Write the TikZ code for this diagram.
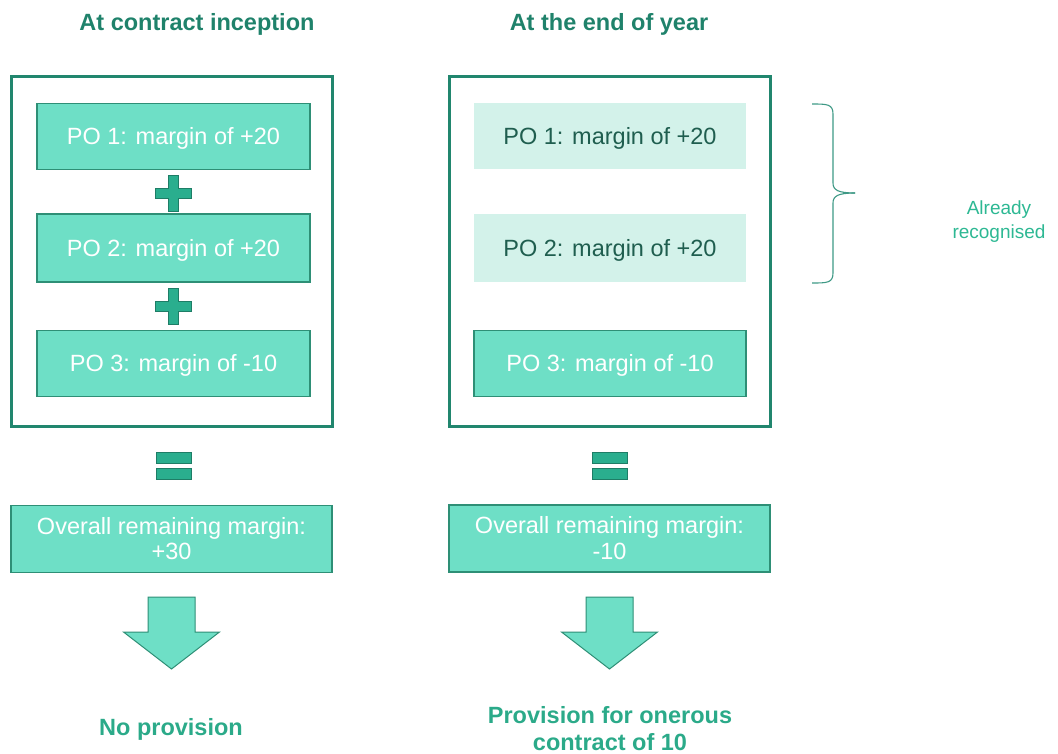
\documentclass[tikz,border=0pt]{standalone}
\usepackage{fontspec}
\setmainfont{Liberation Sans}
\definecolor{frame}{HTML}{21866E}
\definecolor{mint}{HTML}{6EDFC6}
\definecolor{mintedge}{HTML}{2E8F76}
\definecolor{pale}{HTML}{D3F2EA}
\definecolor{paletext}{HTML}{1F5E4F}
\definecolor{sign}{HTML}{2AAE8E}
\definecolor{signedge}{HTML}{1E7D66}
\definecolor{head}{HTML}{1F826B}
\definecolor{result}{HTML}{2BAA89}
\definecolor{note}{HTML}{2DB893}
\definecolor{brace}{HTML}{3E9985}
\tikzset{
  outerframe/.style={draw=frame, line width=3pt, minimum width=321pt, minimum height=350pt},
  pobox/.style={draw=mintedge, line width=1.3pt, fill=mint, text=white, minimum width=273pt, minimum height=66pt,
    text depth=1pt, font=\fontsize{23.5}{27}\selectfont},
  donebox/.style={fill=pale, text=paletext, minimum width=272pt, minimum height=66pt,
    text depth=1pt, font=\fontsize{23.5}{27}\selectfont},
  sumbox/.style={draw=mintedge, line width=1.3pt, fill=mint, text=white, minimum width=321pt, minimum height=67pt,
    align=center, text depth=1pt, font=\fontsize{23.5}{25.5}\selectfont},
  heading/.style={text=head, font=\bfseries\fontsize{23.5}{27}\selectfont},
  outcome/.style={text=result, align=center, font=\bfseries\fontsize{23.5}{27}\selectfont},
  signshape/.style={fill=sign, draw=signedge, line width=1pt},
  blockarrow/.style={fill=mint, draw=mintedge, line width=1pt},
}
\begin{document}
\begin{tikzpicture}[x=1pt,y=-1pt]
\useasboundingbox (0,0) rectangle (1058,753);

% column headings
\node[heading] (h1) at (197,24) {At contract inception};
\node[heading] (h2) at (609,24) {At the end of year};

% frames around the performance obligations
\node[outerframe] (f1) at (171.5,251) {};
\node[outerframe] (f2) at (610,251) {};

% left column
\node[pobox] (l1) at (173.5,136.5) {PO 1: margin of +20};
\node[pobox, minimum height=68pt] (l2) at (173.5,248) {PO 2: margin of +20};
\node[pobox] (l3) at (173.5,363.5) {PO 3: margin of -10};

% right column
\node[donebox] (r1) at (610,136) {PO 1: margin of +20};
\node[donebox, minimum height=68pt] (r2) at (610,248) {PO 2: margin of +20};
\node[pobox, minimum width=272pt] (r3) at (610,363.5) {PO 3: margin of -10};

% plus signs
\foreach \cy in {193,306}{
  \path[signshape] (168.5,\cy-18) -- (178.5,\cy-18) -- (178.5,\cy-5) -- (191.5,\cy-5) -- (191.5,\cy+5)
    -- (178.5,\cy+5) -- (178.5,\cy+18) -- (168.5,\cy+18) -- (168.5,\cy+5) -- (155.5,\cy+5)
    -- (155.5,\cy-5) -- (168.5,\cy-5) -- cycle;
}

% equals signs
\foreach \cx in {173.5,609.5}{
  \path[signshape] (\cx-17.5,452) rectangle (\cx+17.5,463);
  \path[signshape] (\cx-17.5,468) rectangle (\cx+17.5,479.5);
}

% totals
\node[sumbox] (s1) at (171.5,539) {Overall remaining margin:\\+30};
\node[sumbox] (s2) at (609.5,538.5) {Overall remaining margin:\\-10};

% block arrows
\foreach \cx in {171.5,609.5}{
  \path[blockarrow] (\cx-23.5,597) -- (\cx+23.5,597) -- (\cx+23.5,632) -- (\cx+48,632)
    -- (\cx,669) -- (\cx-48,632) -- (\cx-23.5,632) -- cycle;
}

% outcomes
\node[outcome] (o1) at (171,729) {No provision};
\node[outcome] (o2) at (610,729) {Provision for onerous\\contract of 10};

% brace and note
\draw[brace, line width=1.1pt] (812,104) .. controls (827,104) and (833,104) .. (833,114) -- (833,183)
  .. controls (833,190) and (838,193) .. (855,193);
\draw[brace, line width=1.1pt] (855,193) .. controls (838,193) and (833,196) .. (833,203) -- (833,273)
  .. controls (833,283) and (827,283) .. (812,283);
\node[text=note, align=center, font=\fontsize{19}{24}\selectfont] (n) at (999,222) {Already\\recognised};
\end{tikzpicture}
\end{document}
